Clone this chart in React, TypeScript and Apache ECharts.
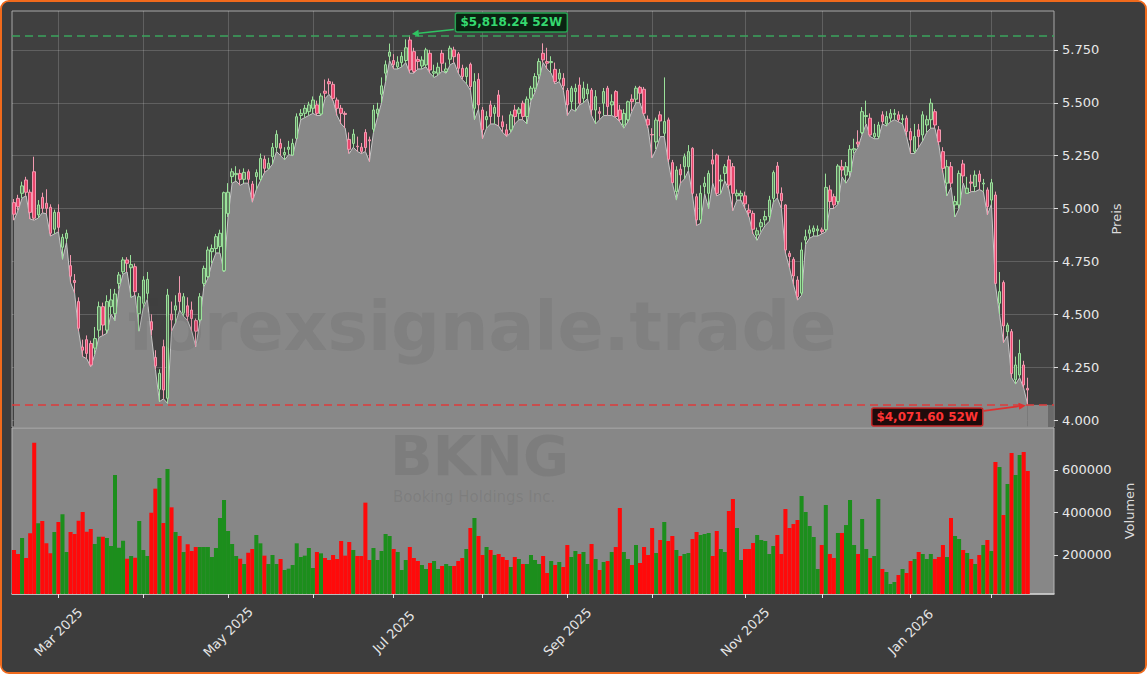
import React, { useEffect, useRef } from "react";
import * as echarts from "echarts";

const opens = [5028,5048,5072,5135,5077,5174,4970,5053,5025,5006,4902,4982,4817,4859,4730,4660,4560,4345,4380,4362,4340,4425,4536,4425,4536,4504,4646,4701,4757,4720,4725,4504,4552,4599,4465,4296,4145,4347,4103,4501,4520,4600,4505,4540,4520,4470,4473,4646,4678,4796,4811,4820,4706,4977,5151,5160,5166,5138,5174,5116,5151,5138,5233,5190,5245,5289,5308,5255,5280,5253,5332,5440,5450,5458,5474,5490,5447,5555,5600,5587,5513,5474,5450,5327,5308,5295,5290,5360,5325,5375,5450,5540,5640,5720,5700,5670,5690,5700,5797,5742,5705,5674,5679,5734,5640,5640,5734,5648,5706,5750,5731,5663,5624,5682,5474,5611,5466,5420,5490,5450,5537,5410,5372,5372,5466,5450,5498,5435,5521,5569,5632,5734,5695,5690,5658,5612,5616,5558,5505,5553,5584,5521,5542,5560,5466,5458,5498,5569,5490,5553,5466,5395,5420,5517,5517,5573,5564,5422,5350,5315,5443,5356,5419,5217,5080,5186,5198,5198,5285,5056,4946,5104,5072,5230,5253,5130,5166,5230,5198,5060,5060,5060,4993,4977,4875,4914,4946,4962,5048,5201,5072,5017,4788,4760,4662,4600,4851,4883,4891,4895,4899,4900,5088,5056,5033,5198,5158,5174,5277,5314,5359,5435,5427,5340,5340,5443,5400,5427,5445,5443,5420,5427,5364,5270,5372,5348,5395,5420,5458,5372,5269,5120,5198,5017,5017,5211,5072,5125,5104,5163,5116,5088,5040,5064,4552,4650,4418,4418,4190,4213,4260,4150];
const closes = [4973,5009,5107,5077,4982,4954,5017,5001,5001,4883,4982,4911,4864,4883,4680,4650,4434,4330,4315,4260,4385,4536,4449,4560,4568,4596,4686,4757,4741,4735,4607,4583,4662,4665,4426,4255,4221,4142,4591,4473,4540,4560,4583,4490,4480,4420,4583,4717,4804,4811,4867,4883,5075,5077,5174,5166,5138,5171,5138,5048,5170,5237,5190,5214,5289,5351,5285,5265,5290,5308,5434,5450,5474,5490,5513,5450,5532,5545,5590,5521,5474,5450,5445,5280,5352,5292,5270,5288,5320,5466,5470,5580,5680,5740,5680,5693,5720,5760,5655,5648,5695,5702,5750,5655,5647,5668,5687,5660,5758,5718,5663,5624,5663,5577,5600,5490,5372,5435,5435,5478,5435,5387,5348,5443,5435,5470,5435,5517,5569,5624,5695,5703,5687,5695,5600,5640,5580,5490,5569,5569,5498,5569,5564,5466,5529,5450,5553,5482,5505,5435,5420,5450,5505,5505,5569,5545,5450,5395,5348,5418,5414,5411,5233,5122,5182,5159,5245,5269,5072,4946,5072,5120,5166,5210,5072,5135,5198,5111,5072,5072,5072,5022,4980,4902,4895,4933,4962,5040,5170,5072,5037,4804,4773,4681,4583,4804,4867,4899,4907,4903,4891,5100,5033,5017,5201,5182,5198,5280,5283,5305,5458,5440,5348,5356,5395,5411,5435,5450,5450,5420,5425,5364,5324,5340,5340,5443,5420,5498,5395,5316,5190,5198,5120,5033,5166,5154,5096,5120,5158,5127,5120,5009,5122,4646,4607,4445,4449,4220,4260,4315,4166,4142];
const lows = [4945,4990,5050,5060,4950,4945,4955,4980,4975,4870,4880,4890,4760,4840,4650,4600,4420,4300,4290,4252,4310,4390,4400,4410,4500,4470,4620,4690,4700,4580,4590,4420,4530,4570,4400,4240,4087,4100,4079,4420,4460,4520,4490,4470,4420,4347,4460,4630,4670,4740,4790,4790,4700,4960,5120,5130,5110,5120,5120,5030,5090,5130,5170,5185,5210,5270,5250,5230,5255,5250,5330,5420,5430,5440,5450,5440,5440,5520,5540,5510,5440,5400,5380,5260,5290,5270,5260,5270,5222,5360,5430,5500,5600,5700,5660,5660,5670,5690,5640,5640,5660,5660,5670,5640,5620,5630,5650,5640,5680,5690,5640,5610,5590,5560,5420,5470,5330,5380,5400,5400,5390,5360,5340,5360,5400,5420,5420,5400,5510,5550,5610,5690,5660,5640,5590,5600,5560,5440,5470,5460,5490,5500,5520,5440,5400,5420,5440,5440,5440,5430,5410,5380,5410,5460,5500,5500,5440,5380,5240,5280,5340,5340,5220,5120,5040,5120,5140,5180,5060,4920,4930,5070,5000,5120,5060,5070,5130,5090,4990,5040,5040,5000,4960,4880,4850,4890,4920,4940,5030,5050,5000,4790,4720,4640,4567,4590,4830,4860,4870,4870,4880,4890,5000,5000,5020,5150,5120,5150,5260,5290,5350,5400,5340,5330,5330,5400,5390,5410,5420,5410,5400,5340,5260,5260,5290,5320,5360,5380,5380,5300,5170,5060,5100,4960,5000,5120,5070,5080,5080,5090,5080,4970,5020,4640,4500,4366,4400,4200,4170,4200,4150,4071.6];
const highs = [5045,5065,5127,5150,5090,5245,5040,5075,5091,5020,4995,5020,4880,4900,4780,4690,4580,4380,4400,4375,4440,4560,4555,4590,4620,4620,4700,4770,4770,4780,4740,4600,4680,4700,4500,4330,4240,4380,4620,4560,4590,4680,4600,4580,4560,4480,4600,4730,4820,4830,4880,4900,5080,5120,5190,5200,5185,5190,5185,5130,5185,5260,5250,5240,5310,5370,5330,5290,5320,5330,5450,5470,5490,5505,5530,5510,5545,5610,5615,5600,5525,5490,5460,5360,5375,5340,5310,5375,5340,5490,5500,5620,5700,5780,5730,5720,5740,5800,5818.24,5760,5720,5720,5760,5750,5680,5690,5750,5690,5770,5765,5740,5680,5670,5690,5640,5640,5480,5460,5510,5490,5560,5440,5400,5460,5490,5480,5510,5530,5580,5640,5710,5781,5760,5720,5690,5660,5640,5570,5580,5590,5620,5600,5590,5570,5560,5480,5570,5580,5540,5560,5490,5470,5510,5540,5580,5580,5575,5440,5380,5430,5460,5620,5430,5230,5200,5210,5260,5300,5290,5070,5110,5150,5180,5280,5260,5160,5210,5250,5215,5090,5085,5080,5020,4990,4910,4950,4990,5060,5180,5220,5100,5020,4800,4770,4680,4840,4900,4920,4920,4920,4910,5165,5110,5070,5210,5230,5220,5300,5330,5370,5480,5510,5450,5400,5410,5460,5460,5470,5470,5460,5445,5440,5380,5400,5400,5460,5440,5520,5470,5390,5290,5230,5220,5060,5180,5230,5150,5160,5180,5180,5140,5100,5140,5080,4700,4660,4460,4430,4300,4380,4280,4200];
const volumes = [223500,204700,280000,185900,301900,728600,349000,360000,254900,207800,308200,355300,391400,214100,308200,298800,361500,402300,309800,322300,251800,286300,286300,280000,242300,576500,234500,267400,182700,195300,187400,360000,223500,195300,399200,512100,562300,350600,604700,424300,308200,289400,214100,250100,218800,237600,237600,237600,237600,190600,232900,374100,458800,312900,251800,195300,182700,157600,210900,228200,294100,254900,196900,157600,200000,157600,181100,129400,135600,152900,254900,190600,196900,232900,138800,214100,207800,185900,176400,200000,181100,265900,196900,261100,223500,195300,195300,446300,176400,232900,176400,218800,298800,289400,228200,214100,129400,176400,237600,185900,171700,152900,134100,162300,171700,134100,148200,157600,148200,148200,171700,185900,228200,327100,374100,289400,200000,237600,223500,200000,204700,190600,176400,143500,190600,181100,157600,157600,200000,176400,157600,195300,115300,171700,152900,167000,143500,247000,190600,218800,204700,214100,157600,251800,181100,129400,167000,171700,214100,237600,421200,214100,181100,152900,247000,162300,237600,200000,327100,209400,270600,355300,265900,289400,223500,195300,204700,209400,275300,308200,294100,298800,303500,195300,312900,228200,214100,407100,463500,327100,176400,228200,228200,256500,294100,270600,265900,204700,242300,294100,204700,416400,327100,345900,364700,477600,402300,336400,284700,134100,247000,435300,204700,185900,303500,303500,341000,458800,247000,204700,369400,228200,185900,195300,463500,134100,120000,63500,72900,105900,134100,115300,171700,181100,214100,204700,181100,204700,181100,190600,247000,190600,374100,289400,275300,223500,209400,181100,157600,200000,247000,270600,218800,637600,614100,388200,534100,680000,576500,670600,684700,595300];

const priceTicks = [4000, 4250, 4500, 4750, 5000, 5250, 5500, 5750];
const volumeTicks = [200000, 400000, 600000];
const holidays = ["2025-02-17","2025-04-18","2025-05-26","2025-06-19","2025-07-04","2025-09-01","2025-11-27","2025-12-25","2026-01-01","2026-01-19","2026-02-16"];
const startDate = "2025-02-13";
const monthNames = ["Jan","Feb","Mar","Apr","May","Jun","Jul","Aug","Sep","Oct","Nov","Dec"];
const high52 = 5818.24;
const low52 = 4071.6;
const high52Label = "$5,818.24 52W";
const low52Label = "$4,071.60 52W";
const ticker = "BKNG";
const company = "Booking Holdings Inc.";
const watermark = "forexsignale.trade";
const PAD = 6;

function tradingDays(start: string, n: number): string[] {
  const out: string[] = [];
  let t = new Date(start + "T12:00:00Z").getTime();
  while (out.length < n) {
    const d = new Date(t);
    const dow = d.getUTCDay();
    const iso = d.toISOString().slice(0, 10);
    if (dow !== 0 && dow !== 6 && holidays.indexOf(iso) < 0) out.push(iso);
    t += 86400000;
  }
  return out;
}

function deFormat(v: number): string {
  const s = String(Math.round(v));
  return s.replace(/\B(?=(\d{3})+(?!\d))/g, ".");
}

export default function App() {
  const ref = useRef<HTMLDivElement>(null);
  useEffect(() => {
    if (!ref.current) return;
    const chart = echarts.init(ref.current, null, { renderer: "svg" });
    const n = closes.length;
    const dates = tradingDays(startDate, n);
    const cats = dates.concat(Array.from({ length: PAD }, (_, k) => "pad" + k));
    const monthStart = new Set<number>();
    const labeled = new Set<number>();
    for (let i = 1; i < n; i++) {
      if (dates[i].slice(5, 7) !== dates[i - 1].slice(5, 7)) {
        monthStart.add(i);
        const m = parseInt(dates[i].slice(5, 7), 10);
        if (m % 2 === 1) labeled.add(i);
      }
    }
    const candle = opens.map((o, i) => [o, closes[i], lows[i], highs[i]]);
    const vol = volumes.map((v, i) => ({
      value: v,
      itemStyle: { color: closes[i] >= opens[i] ? "#1c8e1c" : "#ff0a0a" },
    }));
    const gridLine = { color: "rgba(255,255,255,0.17)", width: 1 };
    const font = "DejaVu Sans";

    chart.setOption({
      animation: false,
      backgroundColor: "#3d3d3d",
      textStyle: { fontFamily: font },
      grid: [
        { left: 12, top: 11, width: 1042, height: 416, show: true, backgroundColor: "#404040", borderColor: "#a8a8a8", borderWidth: 1 },
        { left: 12, top: 428, width: 1042, height: 166, show: true, backgroundColor: "#878787", borderColor: "#b4b4b4", borderWidth: 1 },
      ],
      xAxis: [
        {
          type: "category", gridIndex: 0, data: cats, boundaryGap: true,
          axisLine: { show: false }, axisTick: { show: false }, axisLabel: { show: false },
          splitLine: { show: true, alignWithLabel: true, interval: (i: number) => monthStart.has(i), lineStyle: gridLine },
        },
        {
          type: "category", gridIndex: 1, data: cats, boundaryGap: true,
          axisLine: { show: true, lineStyle: { color: "#d0d0d0", width: 1.5 } },
          axisTick: { show: true, alignWithLabel: true, interval: (i: number) => monthStart.has(i), length: 4, lineStyle: { color: "#e6e6e6" } },
          axisLabel: {
            show: true, interval: (i: number) => labeled.has(i), rotate: 45, margin: 38,
            align: "center", verticalAlign: "middle", color: "#e6e6e6", fontSize: 13, fontFamily: font,
            formatter: (v: string) => {
              const m = parseInt(v.slice(5, 7), 10) - 1;
              return monthNames[m] + " " + v.slice(0, 4);
            },
          },
          splitLine: { show: false },
        },
      ],
      yAxis: [
        {
          type: "value", gridIndex: 0, position: "right", min: 3967, max: 5934,
          axisLine: { show: false },
          axisTick: { show: true, customValues: priceTicks, length: 4, lineStyle: { color: "#e0e0e0" } },
          axisLabel: { customValues: priceTicks, formatter: (v: number) => deFormat(v), color: "#e8e8e8", fontSize: 13, margin: 8, fontFamily: font },
          splitLine: { show: true, lineStyle: gridLine },
          name: "Preis", nameLocation: "middle", nameRotate: 90, nameGap: 54,
          nameTextStyle: { color: "#dcdcdc", fontSize: 13, fontFamily: font },
        },
        {
          type: "value", gridIndex: 1, position: "right", min: 16470, max: 797600,
          axisLine: { show: false },
          axisTick: { show: true, customValues: volumeTicks, length: 4, lineStyle: { color: "#e0e0e0" } },
          axisLabel: { customValues: volumeTicks, formatter: (v: number) => String(v), color: "#e8e8e8", fontSize: 13, margin: 8, fontFamily: font },
          splitLine: { show: false },
          name: "Volumen", nameLocation: "middle", nameRotate: 90, nameGap: 68,
          nameTextStyle: { color: "#dcdcdc", fontSize: 13, fontFamily: font },
        },
      ],
      series: [
        {
          type: "line", xAxisIndex: 0, yAxisIndex: 0, data: lows, symbol: "none", silent: true, z: 2,
          lineStyle: { color: "#c6c6c6", width: 1 },
          areaStyle: { color: "#888888", opacity: 1 },
        },
        {
          type: "candlestick", xAxisIndex: 0, yAxisIndex: 0, data: candle, barWidth: 3, z: 3, silent: true,
          itemStyle: { color: "#5f7f5f", color0: "#e8456c", borderColor: "#9ae29a", borderColor0: "#f29ab0", borderWidth: 1 },
          markLine: {
            silent: true, symbol: "none", label: { show: false },
            data: [
              { yAxis: high52, lineStyle: { color: "#3aa45c", type: [8, 5], width: 1.5 } },
              { yAxis: low52, lineStyle: { color: "#dd3b3b", type: [8, 5], width: 1.5 } },
            ],
          },
        },
        {
          type: "bar", xAxisIndex: 1, yAxisIndex: 1, data: vol, barWidth: "100%", barCategoryGap: "0%", silent: true, z: 2,
        },
      ],
    });

    const iMax = highs.indexOf(high52);
    const iMin = lows.indexOf(low52);
    const pMax = chart.convertToPixel({ xAxisIndex: 0, yAxisIndex: 0 }, [iMax, high52]) as number[];
    const pMin = chart.convertToPixel({ xAxisIndex: 0, yAxisIndex: 0 }, [iMin, low52]) as number[];
    const gridRect = (chart as any).getModel().getComponent("grid", 0).coordinateSystem.getRect();
    const gRight = gridRect.x + gridRect.width;
    const gBottom = gridRect.y + gridRect.height;

    const arrow = (sx: number, sy: number, tx: number, ty: number, color: string) => {
      const dx = tx - sx, dy = ty - sy;
      const len = Math.sqrt(dx * dx + dy * dy);
      const ux = dx / len, uy = dy / len;
      const nx = -uy, ny = ux;
      const bx = tx - ux * 7, by = ty - uy * 7;
      return [
        { type: "line", z: 100, shape: { x1: sx, y1: sy, x2: bx, y2: by }, style: { stroke: color, lineWidth: 1.6 } },
        { type: "polygon", z: 100, shape: { points: [[tx, ty], [bx + nx * 3.5, by + ny * 3.5], [bx - nx * 3.5, by - ny * 3.5]] }, style: { fill: color } },
      ];
    };

    const wmFill = "rgba(55,55,55,0.10)";
    const tkFill = "rgba(55,55,55,0.12)";
    const graphics: any[] = [
      { type: "rect", z: 1, silent: true, shape: { x: pMin[0], y: pMin[1], width: gRight - 6 - pMin[0], height: gBottom - pMin[1] }, style: { fill: "#888888" } },
      { type: "rect", z: 1, silent: true, shape: { x: gRight - 6, y: pMin[1], width: 5.5, height: gBottom - pMin[1] }, style: { fill: "#6a6a6a" } },
      { type: "text", z: 90, silent: true, style: { text: watermark, x: 482, y: 326, textAlign: "center", textVerticalAlign: "middle", fill: wmFill, fontSize: 68, fontWeight: "bold", fontFamily: font } },
      { type: "text", z: 90, silent: true, style: { text: ticker, x: 390, y: 455, textAlign: "left", textVerticalAlign: "middle", fill: tkFill, fontSize: 56, fontWeight: "bold", fontFamily: font } },
      { type: "text", z: 90, silent: true, style: { text: company, x: 393, y: 497, textAlign: "left", textVerticalAlign: "middle", fill: tkFill, fontSize: 15, fontFamily: font } },
      { type: "rect", z: 100, shape: { x: pMax[0] + 45.5, y: pMax[1] - 22.5, width: 112, height: 19, r: 2 }, style: { fill: "#0b2312", stroke: "#27a352", lineWidth: 1.5 } },
      { type: "text", z: 101, style: { text: high52Label, x: pMax[0] + 101.5, y: pMax[1] - 13, textAlign: "center", textVerticalAlign: "middle", fill: "#35d96f", fontSize: 12, fontWeight: "bold", fontFamily: font } },
      ...arrow(pMax[0] + 44, pMax[1] - 6, pMax[0] + 2, pMax[1] - 1.5, "#2fc462"),
      { type: "rect", z: 100, shape: { x: pMin[0] - 156, y: pMin[1] + 3, width: 111, height: 18, r: 2 }, style: { fill: "#1f0b0b", stroke: "#c42626", lineWidth: 1.5 } },
      { type: "text", z: 101, style: { text: low52Label, x: pMin[0] - 100.5, y: pMin[1] + 12, textAlign: "center", textVerticalAlign: "middle", fill: "#ff3434", fontSize: 12, fontWeight: "bold", fontFamily: font } },
      ...arrow(pMin[0] - 44, pMin[1] + 6, pMin[0] - 2, pMin[1] + 0.5, "#e03030"),
    ];
    chart.setOption({ graphic: graphics });

    return () => chart.dispose();
  }, []);

  return (
    <div
      style={{
        position: "fixed", left: 0, top: 0, width: 1147, height: 674, boxSizing: "border-box",
        border: "2px solid #f06a1c", borderRadius: 9, overflow: "hidden", background: "#3d3d3d",
      }}
    >
      <div ref={ref} style={{ position: "absolute", left: -2, top: -2, width: 1147, height: 674 }} />
    </div>
  );
}
